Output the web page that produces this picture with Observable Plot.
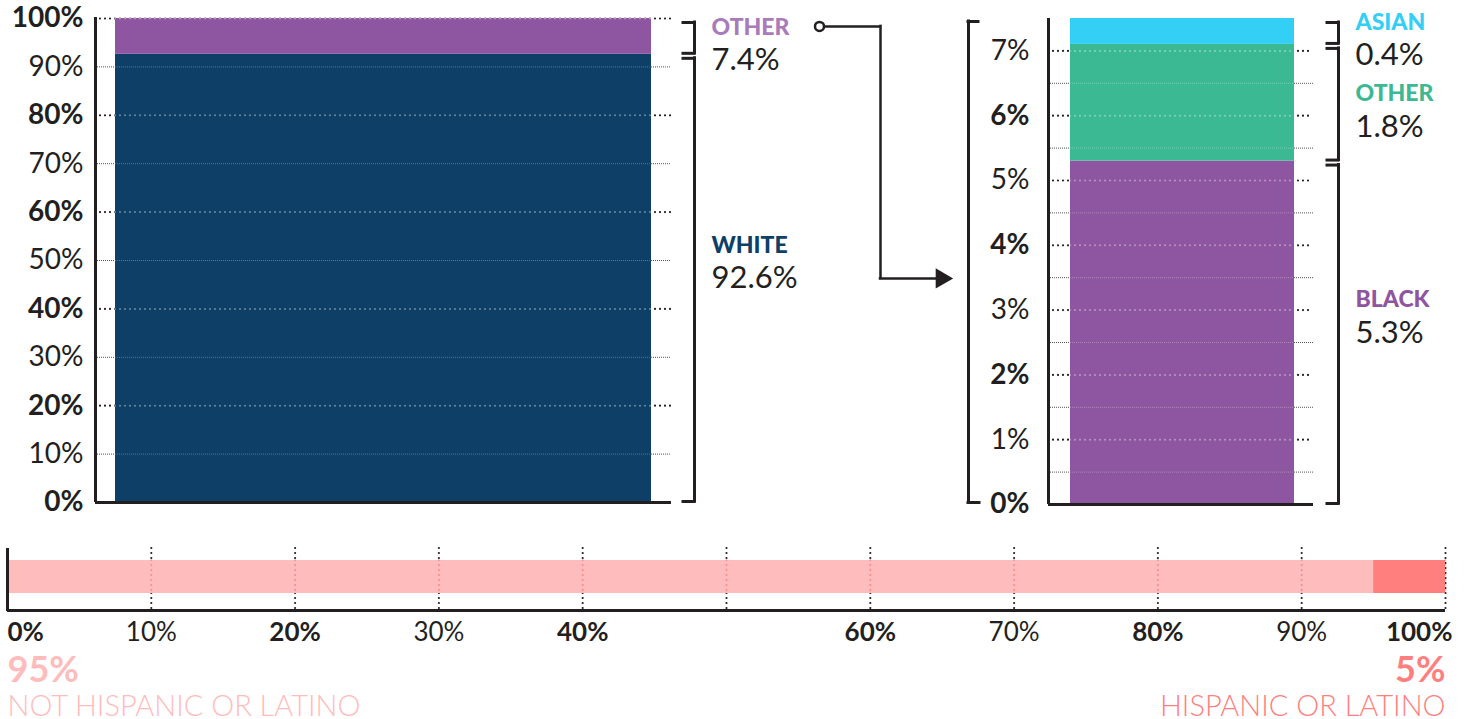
<!DOCTYPE html>
<html>
<head>
<meta charset="utf-8">
<script src="https://cdn.jsdelivr.net/npm/d3@7"></script>
<script src="https://cdn.jsdelivr.net/npm/@observablehq/plot@0.6"></script>
<style>
  body { margin: 0; background: #fff; }
  #chart { position: relative; width: 1470px; height: 719px; font-family: Lato, sans-serif; }
  #chart svg { position: absolute; left: 0; top: 0; }
</style>
</head>
<body>
<div id="chart"></div>
<script>
const INK = "#231f20";

// Race, overall population (percent)
const raceNames = ["White", "Other"];
const raceValues = [92.6, 7.4];
const raceColors = ["#0e3f66", "#8e55a0"];
const raceLabelColors = ["#0e3f66", "#a87bbb"];

// Breakdown of the "Other" race group (percent of total population)
const otherNames = ["Black", "Other", "Asian"];
const otherValues = [5.3, 1.8, 0.4];
const otherColors = ["#8e55a0", "#3ab993", "#33cff5"];
const otherLabelColors = ["#9055a0", "#3cb992", "#33cff5"];

// Ethnicity (percent)
const ethNames = ["Not Hispanic or Latino", "Hispanic or Latino"];
const ethValues = [95, 5];
const ethColors = ["#ffbcbc", "#ff7f7f"];

// Axis ticks
const leftBoldTicks = [0, 20, 40, 60, 80, 100];
const leftThinTicks = [10, 30, 50, 70, 90];
const rightBoldTicks = [0, 2, 4, 6];
const rightThinTicks = [1, 3, 5, 7];
const rightHalfGrid = [0.5, 1.5, 2.5, 3.5, 4.5, 5.5, 6.5];
const bottomBoldTicks = [0, 20, 40, 60, 80, 100];
const bottomThinTicks = [10, 30, 70, 90];
const bottomGrid = [10, 20, 30, 40, 50, 60, 70, 80, 90, 100];

// Cumulative stacking of a series into lo/hi extents
function stack(names, values, colors, labelColors) {
  let acc = 0;
  return names.map((name, i) => {
    const d = {name, value: values[i], lo: acc, hi: acc + values[i], color: colors[i], labelColor: labelColors ? labelColors[i] : colors[i]};
    d.mid = (d.lo + d.hi) / 2;
    acc = d.hi;
    return d;
  });
}

const race = stack(raceNames, raceValues, raceColors, raceLabelColors);
const other = stack(otherNames, otherValues, otherColors, otherLabelColors);
const eth = stack(ethNames, ethValues, ethColors);
const otherTotal = d3.sum(otherValues);

// Line styles
const dotted = {stroke: INK, strokeWidth: 2.2, strokeDasharray: "0 5", strokeLinecap: "round"};
const dottedOnBar = {stroke: "#fff", strokeOpacity: 0.4, strokeWidth: 2, strokeDasharray: "0 5", strokeLinecap: "round"};
const hair = {stroke: "#555", strokeWidth: 1, strokeDasharray: "1 1"};
const hairOnBar = {stroke: "#fff", strokeOpacity: 0.3, strokeWidth: 1, strokeDasharray: "1 1"};
const bracketLine = {stroke: INK, strokeWidth: 3, strokeLinecap: "square"};
const axisLine = {stroke: INK, strokeWidth: 3};
const FONT = "Lato, sans-serif";

// Label offsets: tall segments centre the value on the segment,
// short ones push the pair down so the name sits near the top.
const TALL = {name: -33, value: 0};
const SHORT = {name: -9, value: 24};

// Segment labels: bold category name above, value below
function segmentLabels(data, x, total) {
  const marks = [];
  for (const [subset, off] of [[data.filter(d => d.value / total > 0.5), TALL], [data.filter(d => d.value / total <= 0.5), SHORT]]) {
    marks.push(
      Plot.text(subset, {x, y: "mid", dy: off.name, text: d => d.name.toUpperCase(), fill: "labelColor", textAnchor: "start", fontWeight: 900, fontSize: 23, fontFamily: FONT}),
      Plot.text(subset, {x, y: "mid", dy: off.value, text: d => `${d.value}%`, fill: INK, textAnchor: "start", fontSize: 31, fontFamily: FONT})
    );
  }
  return marks;
}

// "]" shaped brackets beside each segment
function segmentBrackets(data, x, len) {
  return [
    Plot.ruleX(data, {x: () => x, y1: "hi", y2: "lo", insetTop: 4, insetBottom: 1, ...bracketLine}),
    Plot.ruleY(data, {y: "hi", x1: x - len, x2: x, dy: 4, ...bracketLine}),
    Plot.ruleY(data, {y: "lo", x1: x - len, x2: x, dy: -1, ...bracketLine})
  ];
}

function tickLabels(ticks, x, weight, size) {
  return Plot.text(ticks, {x, y: d => d, text: d => `${d}%`, textAnchor: "end", fontWeight: weight, fontSize: size, fill: INK, fontFamily: FONT});
}

// ---- Left: overall race split ----
const L = {axis: 95, barL: 115, barR: 651, gridEnd: 671, tickX: 83, brk: 694, lbl: 711, knot: 819, elbow: 880, tip: 941};
const whiteSeg = race[0], otherSeg = race[1];
const leftMajor = leftBoldTicks.filter(t => t > 0);
const knotDy = SHORT.name - 1;

const leftPlot = Plot.plot({
  width: 1470, height: 719, margin: 0,
  style: {background: "none", fontFamily: FONT, overflow: "visible"},
  x: {type: "identity", axis: null},
  y: {domain: [0, 100], range: [502, 18], axis: null},
  marks: [
    Plot.ruleY(leftMajor, {x1: L.axis, x2: L.gridEnd, ...dotted}),
    Plot.ruleY(leftThinTicks, {x1: L.axis, x2: L.gridEnd, ...hair}),
    Plot.rect(race, {x1: L.barL, x2: L.barR, y1: "lo", y2: "hi", fill: "color"}),
    Plot.ruleY(leftMajor, {x1: L.barL, x2: L.barR, ...dottedOnBar}),
    Plot.ruleY(leftThinTicks, {x1: L.barL, x2: L.barR, ...hairOnBar}),
    Plot.ruleX([L.axis], {y1: 100, y2: 0, insetTop: -1, ...axisLine}),
    Plot.ruleY([0], {x1: L.axis, x2: L.gridEnd, ...axisLine}),
    tickLabels(leftBoldTicks, L.tickX, 700, 28),
    tickLabels(leftThinTicks, L.tickX, 400, 28),
    ...segmentBrackets(race, L.brk, 11),
    ...segmentLabels(race, L.lbl, 100),
    // connector from the "Other" label to the breakdown chart
    Plot.ruleY([otherSeg], {y: "mid", dy: knotDy, x1: L.knot + 5, x2: L.elbow, stroke: INK, strokeWidth: 2.5, strokeLinecap: "square"}),
    Plot.ruleX([otherSeg], {x: () => L.elbow, y1: "mid", y2: () => whiteSeg.mid, insetTop: knotDy, stroke: INK, strokeWidth: 2.5, strokeLinecap: "square"}),
    Plot.ruleY([whiteSeg], {y: "mid", x1: L.elbow, x2: L.tip - 6, stroke: INK, strokeWidth: 2.5, strokeLinecap: "square"}),
    Plot.dot([whiteSeg], {x: () => L.tip, y: "mid", symbol: "triangle", r: 7.5, rotate: 90, fill: INK, stroke: "none"}),
    Plot.dot([otherSeg], {x: () => L.knot, y: "mid", dy: knotDy, r: 4.5, fill: "#fff", stroke: INK, strokeWidth: 2.5})
  ]
});

// ---- Right: breakdown of "Other" ----
const R = {outer: 968, axis: 1048, barL: 1070, barR: 1294, gridEnd: 1313, tickX: 1029, brk: 1338, lbl: 1355};
const rightMajor = rightBoldTicks.concat(rightThinTicks).filter(t => t > 0).sort((a, b) => a - b);

const rightPlot = Plot.plot({
  width: 1470, height: 719, margin: 0,
  style: {background: "none", fontFamily: FONT, overflow: "visible"},
  x: {type: "identity", axis: null},
  y: {domain: [0, otherTotal], range: [504, 18], axis: null},
  marks: [
    // outer "[" bracket tying the breakdown to the arrow
    Plot.ruleX([R.outer], {y1: otherTotal, y2: 0, insetTop: 3, insetBottom: 2, ...bracketLine}),
    Plot.ruleY([otherTotal], {x1: R.outer, x2: R.outer + 10, dy: 3, ...bracketLine}),
    Plot.ruleY([0], {x1: R.outer, x2: R.outer + 11, dy: -2, ...bracketLine}),
    Plot.ruleY(rightMajor, {x1: R.axis, x2: R.gridEnd, ...dotted}),
    Plot.ruleY(rightHalfGrid, {x1: R.axis, x2: R.gridEnd, ...hair}),
    Plot.rect(other, {x1: R.barL, x2: R.barR, y1: "lo", y2: "hi", fill: "color"}),
    Plot.ruleY(rightMajor, {x1: R.barL, x2: R.barR, ...dottedOnBar}),
    Plot.ruleY(rightHalfGrid, {x1: R.barL, x2: R.barR, ...hairOnBar}),
    Plot.ruleX([R.axis], {y1: otherTotal, y2: 0, ...axisLine}),
    Plot.ruleY([0], {x1: R.axis, x2: R.gridEnd, ...axisLine}),
    tickLabels(rightBoldTicks, R.tickX, 700, 28),
    tickLabels(rightThinTicks, R.tickX, 400, 28),
    ...segmentBrackets(other, R.brk, 11),
    ...segmentLabels(other, R.lbl, otherTotal)
  ]
});

// ---- Bottom: ethnicity ----
const B = {axisTop: 548, barTop: 560, barBottom: 593, base: 610, tickY: 632, valueY: 670, nameY: 706};
const notHisp = eth[0], hisp = eth[1];
const tickText = {y: B.tickY, text: d => `${d}%`, fontSize: 26, fill: INK, fontFamily: FONT};

const bottomPlot = Plot.plot({
  width: 1470, height: 719, margin: 0,
  style: {background: "none", fontFamily: FONT, overflow: "visible"},
  x: {domain: [0, 100], range: [7, 1445], axis: null},
  y: {type: "identity", axis: null},
  marks: [
    Plot.ruleX(bottomGrid, {y1: B.axisTop, y2: B.base, ...dotted}),
    Plot.rect(eth, {x1: "lo", x2: "hi", y1: B.barTop, y2: B.barBottom, fill: "color"}),
    Plot.ruleX(bottomGrid, {y1: B.barTop, y2: B.barBottom, stroke: "#ff0000", strokeOpacity: 0.28, strokeWidth: 2, strokeDasharray: "0 5", strokeLinecap: "round"}),
    Plot.ruleX([0], {y1: B.axisTop, y2: B.base + 1, ...axisLine}),
    Plot.ruleY([B.base], {x1: 0, x2: 100, ...axisLine}),
    Plot.text(bottomBoldTicks.filter(t => t > 0 && t < 100), {x: d => d, ...tickText, fontWeight: 700}),
    Plot.text(bottomThinTicks, {x: d => d, ...tickText, fontWeight: 400}),
    Plot.text([0], {x: d => d, ...tickText, textAnchor: "start", fontWeight: 700}),
    Plot.text([100], {x: d => d, ...tickText, dx: 7, textAnchor: "end", fontWeight: 700}),
    Plot.text([notHisp], {x: "lo", y: B.valueY, text: d => `${d.value}%`, textAnchor: "start", fontWeight: 700, fontSize: 36, fill: "color", fontFamily: FONT}),
    Plot.text([notHisp], {x: "lo", y: B.nameY, text: d => d.name.toUpperCase(), textAnchor: "start", fontWeight: 300, fontSize: 29, fill: "color", fontFamily: FONT}),
    Plot.text([hisp], {x: "hi", y: B.valueY, text: d => `${d.value}%`, textAnchor: "end", fontWeight: 700, fontSize: 36, fill: "color", fontFamily: FONT}),
    Plot.text([hisp], {x: "hi", y: B.nameY, text: d => d.name.toUpperCase(), textAnchor: "end", fontWeight: 300, fontSize: 29, fill: "color", fontFamily: FONT})
  ]
});

const chart = document.getElementById("chart");
chart.append(leftPlot, rightPlot, bottomPlot);
</script>
</body>
</html>
